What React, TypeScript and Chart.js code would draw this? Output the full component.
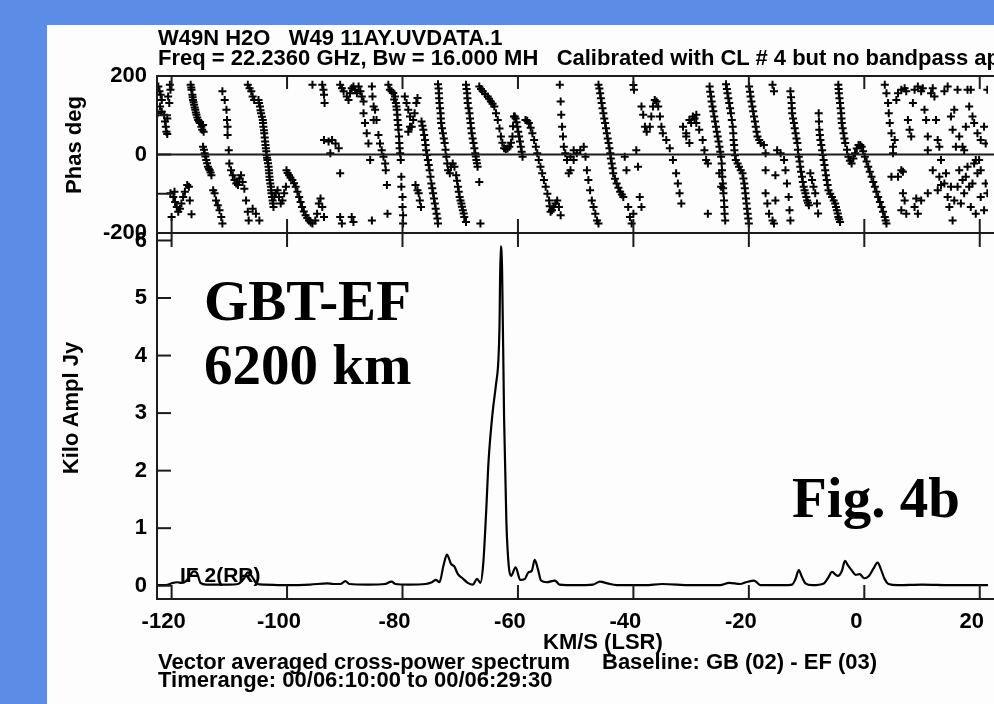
import React, { useEffect, useRef } from "react";
import { Chart, registerables } from "chart.js";
Chart.register(...registerables);

// ---- axes ----
const xTicks = [-120, -100, -80, -60, -40, -20, 0, 20];
const phaseTicks = [-200, -100, 0, 100, 200];
const ampTicks = [0, 1, 2, 3, 4, 5, 6];

// ---- amplitude spectrum (Kilo Jy) vs velocity (km/s) ----
const ampVel = [
  -122.5, -121, -119.8, -119, -118.2, -117.5, -116.8, -116.2, -115.6, -115.0, -114, -112, -110, -108.5,
  -107.5, -106.8, -106.0, -105.2, -104, -100, -96, -93, -92, -90.7, -89.9, -89.2, -86, -83, -81.9, -81.2,
  -79, -76, -74.9, -74.2, -73.6, -72.9, -72.3, -71.6, -71.0, -70.4, -69.6, -68.7, -67.8, -67.1, -66.5,
  -66.0, -65.5, -65.1, -64.4, -63.8, -63.4, -63.2, -63.0, -62.75, -62.4, -62.0, -61.6, -61.2, -60.4,
  -59.6, -58.8, -58.2, -57.6, -57.1, -56.5, -56.0, -55, -53.6, -52.8, -50, -47, -45.8, -44.5, -42.9,
  -38, -35, -30, -25, -23.4, -21.5, -20.5, -19.1, -18, -14, -12.5, -11.9, -11.35, -10.8, -10.2, -9,
  -7, -6.2, -5.6, -4.6, -3.9, -3.35, -2.8, -2.2, -1.5, -0.8, 0, 0.8, 1.6, 2.3, 2.9, 3.5, 4.2, 5.8,
  10, 15, 20, 21.5,
];
const ampVal = [
  0.01, 0.01, 0.05, 0.06, 0.05, 0.08, 0.18, 0.25, 0.22, 0.05, 0.02, 0.02, 0.02, 0.03,
  0.12, 0.23, 0.15, 0.03, 0.02, 0.01, 0.02, 0.04, 0.03, 0.03, 0.08, 0.03, 0.02, 0.03, 0.07, 0.03,
  0.02, 0.03, 0.06, 0.10, 0.06, 0.35, 0.54, 0.38, 0.33, 0.20, 0.13, 0.05, 0.02, 0.12, 0.05,
  0.4, 1.3, 2.15, 3.0, 3.5, 3.9, 4.5, 5.9, 5.5, 2.9, 1.1, 0.35, 0.17, 0.32,
  0.10, 0.12, 0.23, 0.26, 0.45, 0.27, 0.09, 0.06, 0.09, 0.02, 0.01, 0.02, 0.07, 0.04, 0.01,
  0.01, 0.03, 0.01, 0.01, 0.05, 0.03, 0.06, 0.09, 0.01, 0.01, 0.02, 0.12, 0.27, 0.15, 0.04, 0.01,
  0.04, 0.15, 0.24, 0.17, 0.25, 0.43, 0.35, 0.27, 0.19, 0.20, 0.13, 0.17, 0.30, 0.40, 0.28, 0.12, 0.03, 0.01,
  0.02, 0.01, 0.01, 0.01,
];

// ---- phase (deg) vs velocity (km/s) ----
const phaseVel = [
  -122.3, -122.1, -121.9, -121.7, -122.0, -121.7, -121.3, -121.15, -121.0, -120.9, -120.75, -120.3, -120.2, -120.6, -120.4, -120.75, -122.45,
  -120.2, -119.7, -119.4, -119.1, -118.85, -118.55, -118.3, -118.0, -117.7, -117.3, -117.0, -116.85, -116.55, -120.0, -119.5,
  -116.7, -116.55, -116.4, -116.3, -116.1, -115.9, -115.7, -115.4, -115.1, -114.85, -114.7, -114.55, -114.45,
  -114.55, -114.27, -114.0, -113.7, -113.4, -113.1, -112.8, -112.55, -112.3, -112.0, -111.7, -111.4, -111.2,
  -111.2, -110.8, -110.5, -110.4, -110.3, -110.3, -110.1, -110.0, -109.7, -109.4, -109.1, -108.8, -108.5, -108.25, -107.97, -107.7, -107.4, -107.1, -106.8, -106.65, -105.96, -105.4, -104.8,
  -106.8, -106.5, -106.2, -105.96, -105.7,
  -104.95, -104.7, -104.5, -104.2, -104.1, -103.95, -103.8, -103.67, -103.55, -103.4, -103.2, -103.1, -103.0, -102.8, -102.7, -102.5, -102.35, -102.2, -101.95, -101.65, -101.4, -101.1, -100.8, -100.5, -100.2,
  -100.1, -99.65, -99.08, -98.5, -97.9, -97.4, -96.8, -96.2, -95.6, -95.1, -94.8, -94.5, -94.2, -93.9, -93.6,
  -90.8, -90.5, -88.8, -88.5, -85.3,
  -93.6, -92.8, -92.2, -91.6, -91.05, -92.5, -90.8, -85.6,
  -95.6, -93.9, -93.7, -93.6, -93.5,
  -90.8, -90.5, -90.2, -89.65, -89.35, -89.1, -88.8, -88.5, -88.2, -87.9, -87.6, -87.3, -87.05, -86.75,
  -86.75, -86.5, -86.2, -85.9, -85.3, -85.2, -85.0, -85.0, -84.75, -84.5,
  -84.17, -83.9, -83.6, -83.3, -83.0, -82.9, -82.7, -82.6,
  -82.45, -82.2, -81.9, -81.6, -81.3, -81.15, -81.0, -80.85, -80.7, -80.55, -80.4, -80.3, -80.2, -80.2, -80.0, -80.0, -79.9, -79.9,
  -79.6, -79.3, -79.0, -78.7, -78.7, -79.0, -78.4, -78.15, -77.9, -77.6, -77.4,
  -77.75, -77.4, -77.2, -77.0, -76.8,
  -76.7, -76.4, -76.1, -75.9, -75.6, -75.3, -75.0, -74.7, -74.4, -74.1, -73.85,
  -73.85, -73.7, -73.6, -73.4, -73.3, -73.0, -72.7, -72.4, -72.1, -71.8, -71.6, -71.3, -71.0, -70.7, -70.4, -70.1, -69.8, -69.55, -69.3, -69.0,
  -69.0, -68.8, -68.7, -68.4, -68.2, -68.0, -67.7, -67.4, -67.2, -67.0, -66.7, -66.5,
  -66.7, -66.1, -65.25, -64.7, -64.1, -63.5, -62.95, -62.4, -61.5, -60.95, -60.7, -60.4, -60.1, -59.8, -59.5, -59.2,
  -58.7, -58.1, -57.5, -56.9, -56.4, -55.8, -55.2, -54.6, -54.35, -53.8, -53.2, -52.9, -52.6,
  -52.75, -52.6, -52.5, -52.35, -52.2, -52.05, -51.8, -51.5, -51.2,
  -50.9, -50.35, -49.8, -49.2, -48.6, -48.3, -48.05, -47.8, -47.5, -47.2, -46.9, -46.6, -46.3, -46.05, -50.9, -50.35,
  -46.05, -45.76, -45.5, -45.2, -44.9, -44.6, -44.3, -44.0, -43.75, -43.5, -42.9, -42.3, -41.75, -41.5, -41.2, -40.9, -40.6, -40.3, -40.0, -38.9, -38.6,
  -40.0, -39.9,
  -38.6, -38.3, -38.0, -37.7, -37.15, -36.9, -36.6, -36.3, -36.0, -35.7, -35.4, -35.15, -34.9, -34.3, -33.7, -33.15, -32.6, -32.3, -32.0, -31.7, -39.5, -39.2,
  -31.4, -30.85, -30.3, -30.0, -29.4, -29.1,
  -30.85, -30.3, -29.7, -29.1, -28.6, -28.0, -27.7, -27.4, -27.1, -27.1,
  -26.8, -26.55, -26.3, -26.0, -25.7, -25.4, -25.1, -24.8, -24.65, -24.5, -24.4, -24.25, -24.1, -25.1, -24.8,
  -23.95, -23.7, -23.4, -23.1, -22.8, -22.65, -22.5, -22.25, -21.7, -21.1, -20.8, -20.6, -20.4, -20.2, -20.0,
  -19.95, -19.7, -19.4, -19.1, -18.8, -18.5, -17.95, -17.4, -17.1, -17.1, -17.1, -16.8, -16.5, -15.9, -15.65, -15.4,
  -15.9, -15.65,
  -15.1, -14.5, -13.9, -13.65, -13.4, -13.1, -12.95, -12.8, -15.4,
  -12.8, -12.6, -12.5, -12.2, -11.9, -11.6, -11.35, -11.1, -10.8, -10.5, -10.2, -9.9, -9.6, -9.35, -9.05, -8.8, -8.5,
  -8.2, -8.0,
  -7.9, -7.8, -7.6, -7.3, -7.05, -6.77, -6.5, -6.2, -5.6, -5.05, -4.75, -4.5, -4.2,
  -4.5, -4.4, -4.2, -4.0, -3.9, -3.6, -3.3, -2.75, -2.2, -1.6, -1.0, -0.45, 0.1, 0.68, 1.25, 1.83, 2.4, 2.98, 3.55, 3.84,
  3.55, 3.84, 4.12, 4.24, 4.41, 4.7, 4.98, 4.98, 5.27, 5.55, 5.84, 6.41, 6.99, 7.27, 7.56, 7.85, 8.13, 8.42, 8.71, 9.28,
  9.85, 10.14, 10.43, 10.71, 11.0, 11.57, 11.86, 12.15, 12.43, 12.72, 13.0, 13.29, 13.87, 14.44, 15.01, 15.3, 15.59, 15.87,
  16.16, 16.45, 17.02, 17.3, 17.59, 17.88, 18.17, 18.45, 18.74, 19.03, 19.6, 19.89, 20.17, 20.75, 21.03, 21.32,
  6.41, 6.7, 6.99, 6.41, 7.27, 8.71, 9.28, 9.0, 9.85, 11.0, 11.86, 12.72, 13.0, 13.29, 13.87, 14.15, 14.44, 14.73, 15.01,
  15.3, 15.59, 16.16, 16.45, 16.73, 17.02, 17.3, 17.59, 17.88, 18.17, 18.45, 18.74, 19.03, 19.31, 19.6, 20.17, 20.75, 21.03,
  21.32, 19.31, 20.17, 11.0, 4.7, 5.84, 6.7,
];
const phaseDeg = [
  173, 161, 152, 139, 122, 109, 101, 84, 71, 58, 52, 178, 165, 148, 131, 92, 105,
  -99, -108, -121, -134, -146, -138, -125, -108, -95, -78, -82, -117, -152, -159, -95,
  178, 165, 152, 139, 127, 114, 101, 88, 80, 71, 63, 75, 58,
  20, 3, -14, -31, -40, -53, -91, -99, -117, -129, -142, -159, -176,
  161, 139, 114, 88, 71, 50, 11, -23, -40, -53, -65, -74, -78, -61, -53, -70, -87, -117, -146, -168, -138, -151, -168,
  178, 169, 161, 148, 139,
  139, 122, 105, 88, 71, 54, 33, 16, -1, -14, -31, -48, -65, -82, -99, -117, -134, -108, -99, -91, -108, -125, -117, -99, -82,
  -40, -53, -65, -82, -108, -134, -155, -168, -176, -168, -151, -125, -112, -134, -159,
  -159, -176, -159, -172, -168,
  37, 33, 37, 28, 16, 3, -48, -14,
  178, 178, 165, 152, 131,
  178, 169, 161, 148, 139, 156, 169, 173, 165, 156, 173, 161, 148, 135,
  105, 80, 54, 28, 173, 148, 122, 88, 114, 88,
  50, 28, 11, -6, -23, -40, -78, -151,
  178, 165, 161, 157, 148, 131, 114, 88, 63, 29, 3, -14, -57, -82, -108, -134, -155, -176,
  148, 131, 114, 97, 71, 58, 71, 88, 105, 131, 144,
  -78, -91, -99, -117, -134,
  84, 63, 37, 11, -14, -40, -74, -99, -125, -151, -176,
  179, 156, 131, 105, 80, 54, 29, -6, -40, -48, -31, -23, -31, -53, -82, -108, -125, -142, -159, -172,
  178, 156, 131, 105, 80, 54, 29, 3, -14, -31, -70, -176,
  173, 161, 148, 135, 122, 88, 46, 16, 20, 46, 97, 92, 71, 46, 20, -6,
  88, 80, 54, 20, -14, -48, -82, -117, -146, -134, -117, -134, -155,
  178, 135, 101, 71, 46, 20, 3, -14, -48,
  -6, 11, 3, 11, 20, -6, -40, -65, -91, -117, -134, -151, -168, -176, -40, -14,
  178, 156, 131, 105, 80, 54, 29, 3, -23, -48, -74, -95, -108, -6, -40, -134, -159, -176, -151, -108, -134,
  177, 165,
  122, 101, 71, 58, 71, 97, 122, 139, 135, 122, 97, 71, 54, 37, 16, -14, -48, -74, -99, -125, 11, -31,
  71, 54, 29, 80, 92, 101,
  46, 88, 97, 80, 63, 37, 11, -14, -23, -151,
  173, 148, 122, 97, 71, 46, 20, -6, -40, -74, -99, -134, -168, -48, -82,
  179, 156, 131, 105, 71, 37, 11, -14, -31, -48, -74, -99, -125, -151, -176,
  173, 148, 122, 97, 71, 46, 29, 24, 3, -40, -99, -125, -151, -168, -176, -117,
  178, 161,
  11, 3, -14, -40, -74, -108, -142, -168, -53,
  161, 131, 105, 80, 54, 29, -6, -31, -57, -82, -99, -117, -129, -48, -65, -82, -99,
  -125, -150,
  105, 63, 37, 11, -14, -40, -65, -91, -108, -125, -142, -159, -172,
  178, 156, 131, 105, 80, 54, 29, -6, -23, 3, 24, 20, -6, -31, -57, -82, -108, -134, -159, -176,
  178, 156, 131, 105, 80, 54, 20, 3, 37, 139, 156, 165, 169, 161, 88, 63, 46, 131, 165, 173,
  161, 169, 114, 88, 46, 156, 169, 148, 88, 37, 20, -14, 161, 173, 97, 63, 114, 20,
  165, 46, 20, 11, 71, 165, 122, 165, 97, 80, 54, -14, 37, 71, 28, 165,
  -40, -99, -117, -142, -151, -134, -151, -112, -117, -99, -40, -91, -57, -78, -74, -48, -108, -134, -82,
  -168, -117, -82, -40, -125, -65, -99, -57, -31, -82, -134, -74, -23, -151, -48, -108, -142, -74,
  -99, -14, -40, 11, -57, -57, -44,
];

// further crosses read along the densely sampled streaks: [km/s, deg]
const phaseDense: [number, number][] = [
  [-116.6, 171], [-116.35, 146], [-116.2, 133], [-116.0, 120], [-115.8, 107], [-115.55, 94], [-115.25, 84],
  [-114.4, 12], [-114.15, -5], [-113.85, -22], [-113.55, -36], [-113.25, -46],
  [-104.85, 131], [-104.6, 113], [-104.35, 96], [-104.15, 80], [-104.0, 62], [-103.87, 43], [-103.73, 24],
  [-103.6, 8], [-103.47, -8], [-103.3, -22], [-103.15, -40], [-103.05, -57], [-102.9, -74], [-102.75, -91],
  [-102.6, -108], [-102.43, -125],
  [-99.9, -47], [-99.4, -59], [-98.8, -73], [-98.2, -95], [-97.65, -121], [-97.1, -145], [-96.5, -162], [-95.9, -173],
  [-81.45, 140], [-81.05, 122], [-80.9, 101], [-80.75, 75], [-80.6, 46], [-80.5, 16],
  [-76.55, 73], [-76.25, 50], [-76.0, 24], [-75.75, -1], [-75.45, -27], [-75.15, -57], [-74.85, -86],
  [-74.55, -112], [-74.25, -138], [-73.95, -163],
  [-73.75, 168], [-73.65, 143], [-73.5, 118], [-73.35, 92], [-73.15, 67], [-72.85, 41], [-72.55, 12],
  [-72.25, -23], [-70.55, -67], [-70.25, -95], [-69.95, -117], [-69.7, -133], [-69.4, -150],
  [-68.9, 167], [-68.75, 143], [-68.55, 118], [-68.3, 92], [-68.1, 67], [-67.85, 41], [-67.55, 16],
  [-67.3, -5], [-67.1, -22],
  [-66.4, 167], [-65.7, 154], [-65.0, 142], [-64.4, 129], [-63.8, 105], [-63.2, 66], [-62.7, 30], [-62.1, 14],
  [-61.8, 15], [-61.2, 30], [-60.85, 72], [-60.55, 97], [-60.25, 82], [-59.95, 58], [-59.65, 33], [-59.35, 7],
  [-58.4, 86], [-57.8, 68], [-57.2, 37], [-56.65, 3], [-56.1, -31], [-55.5, -65], [-54.9, -100], [-54.5, -132],
  [-54.1, -142], [-53.5, -125],
  [-45.9, 168], [-45.63, 143], [-45.35, 118], [-45.05, 92], [-44.75, 67], [-44.45, 41], [-44.15, 16],
  [-43.9, -10], [-43.6, -35], [-43.2, -62], [-42.6, -85], [-42.0, -102],
  [-26.7, 160], [-26.45, 135], [-26.15, 110], [-25.85, 84], [-25.55, 58], [-25.25, 33], [-24.95, 7],
  [-24.7, -23], [-24.6, -57], [-24.45, -86], [-24.3, -117], [-24.2, -151],
  [-23.8, 167], [-23.55, 143], [-23.25, 118], [-22.95, 88], [-22.7, 54], [-22.55, 24], [-22.4, -2],
  [-21.95, -23], [-21.4, -40], [-20.95, -61], [-20.7, -86], [-20.5, -112], [-20.3, -138], [-20.1, -163],
  [-19.8, 160], [-19.55, 135], [-19.25, 110], [-18.95, 84], [-18.65, 58], [-18.2, 37],
  [-12.7, 146], [-12.55, 118], [-12.35, 92], [-12.05, 67], [-11.75, 41], [-11.5, 12], [-11.2, -18],
  [-10.95, -44], [-10.65, -70], [-10.35, -91], [-10.05, -108], [-9.75, -123],
  [-7.85, 84], [-7.7, 50], [-7.45, 24], [-7.2, -1], [-6.9, -27], [-6.65, -53], [-6.35, -78], [-5.9, -100],
  [-5.3, -117], [-4.9, -134], [-4.6, -150], [-4.35, -165],
  [-4.45, 167], [-4.3, 143], [-4.1, 118], [-3.95, 92], [-3.75, 67], [-3.45, 41], [-3.0, 12], [-2.5, -16],
  [-1.9, -10], [-1.3, 15], [-0.7, 24], [-0.2, 8], [0.4, -18], [0.95, -44], [1.55, -70], [2.1, -95],
  [2.7, -121], [3.25, -146], [3.7, -168],
];

const sans = '"Liberation Sans", Arial, Helvetica, sans-serif';
const serif = '"Liberation Serif", "Times New Roman", serif';

const framePlugin = {
  id: "frame",
  afterDatasetsDraw(chart: any) {
    const { ctx, scales, chartArea } = chart;
    const x = scales.x, yP = scales.yP, yA = scales.yA;
    const L = chartArea.left, R = chart.width + 2;
    const T = 14;
    ctx.save();
    ctx.strokeStyle = "#1c1c1c";
    ctx.lineWidth = 2;
    const line = (x1: number, y1: number, x2: number, y2: number) => {
      ctx.beginPath();
      ctx.moveTo(x1, y1);
      ctx.lineTo(x2, y2);
      ctx.stroke();
    };
    line(L, yP.top, R, yP.top);
    line(L, yP.bottom, R, yP.bottom);
    line(L, yA.bottom, R, yA.bottom);
    line(L, yP.top - 1, L, yA.bottom + 1);
    line(L, yP.getPixelForValue(0), R, yP.getPixelForValue(0));
    phaseTicks.forEach((v) => {
      const p = yP.getPixelForValue(v);
      line(L, p, L + T, p);
    });
    ampTicks.forEach((v) => {
      const p = yA.getPixelForValue(v);
      line(L, p, L + T, p);
    });
    xTicks.forEach((v) => {
      const p = x.getPixelForValue(v);
      line(p, yP.top, p, yP.top + T - 1);
      line(p, yP.bottom - T, p, yP.bottom + T);
      line(p, yA.bottom - T, p, yA.bottom);
    });
    ctx.restore();
  },
};

export default function App() {
  const ref = useRef<HTMLCanvasElement | null>(null);
  useEffect(() => {
    if (!ref.current) return;
    const tickFont = { family: sans, size: 22, weight: "bold" as const };
    const phasePoints = phaseVel
      .map((v, i) => ({ x: v, y: phaseDeg[i] }))
      .concat(phaseDense.map(([v, p]) => ({ x: v, y: p })));
    const chart = new Chart(ref.current, {
      type: "line",
      data: {
        datasets: [
          {
            label: "Amplitude",
            data: ampVel.map((v, i) => ({ x: v, y: ampVal[i] })),
            yAxisID: "yA",
            borderColor: "#000",
            borderWidth: 2.2,
            pointRadius: 0,
            showLine: true,
            cubicInterpolationMode: "monotone",
          },
          {
            label: "Phase",
            data: phasePoints,
            yAxisID: "yP",
            showLine: false,
            pointStyle: "cross",
            pointRadius: 4,
            pointBorderWidth: 2,
            borderColor: "#000",
            backgroundColor: "#000",
          },
        ],
      },
      options: {
        responsive: false,
        animation: false,
        events: [],
        layout: { padding: { top: 76, left: 0, right: 0, bottom: 0 } },
        plugins: { legend: { display: false }, title: { display: false }, tooltip: { enabled: false } },
        scales: {
          x: {
            type: "linear",
            position: "bottom",
            min: -122.53,
            max: 21.43,
            grid: { display: false, drawTicks: false },
            border: { display: false },
            afterBuildTicks: (s: any) => {
              s.ticks = xTicks.map((v) => ({ value: v }));
            },
            afterFit: (s: any) => {
              s.height = 105;
              s.paddingLeft = 0;
              s.paddingRight = 0;
            },
            ticks: { font: tickFont, color: "#000", padding: 10, labelOffset: -8, maxRotation: 0, autoSkip: false },
          },
          yA: {
            type: "linear",
            position: "left",
            stack: "v",
            stackWeight: 366,
            min: -0.231,
            max: 6.13,
            grid: { display: false, drawTicks: false },
            border: { display: false },
            afterBuildTicks: (s: any) => {
              s.ticks = ampTicks.map((v) => ({ value: v }));
            },
            afterFit: (s: any) => {
              s.width = 157;
              s.paddingTop = 0;
              s.paddingBottom = 0;
            },
            ticks: { font: tickFont, color: "#000", padding: 10 },
          },
          yP: {
            type: "linear",
            position: "left",
            stack: "v",
            stackWeight: 157,
            min: -200,
            max: 200,
            grid: { display: false, drawTicks: false },
            border: { display: false },
            afterBuildTicks: (s: any) => {
              s.ticks = phaseTicks.map((v) => ({ value: v }));
            },
            afterFit: (s: any) => {
              s.width = 157;
              s.paddingTop = 0;
              s.paddingBottom = 0;
            },
            ticks: { font: tickFont, color: "#000", padding: 10 },
          },
        },
      },
      plugins: [framePlugin],
    });
    return () => chart.destroy();
  }, []);

  const txt = (left: number, top: number, text: string, extra: any = {}) => (
    <div
      style={{
        position: "absolute",
        left,
        top,
        whiteSpace: "pre",
        fontFamily: sans,
        fontWeight: "bold",
        fontSize: 22,
        lineHeight: "22px",
        color: "#000",
        ...extra,
      }}
    >
      {text}
    </div>
  );
  const big = (left: number, top: number, text: string) => (
    <div
      style={{
        position: "absolute",
        left,
        top,
        whiteSpace: "pre",
        fontFamily: serif,
        fontWeight: "bold",
        fontSize: 57,
        lineHeight: "57px",
        color: "#000",
      }}
    >
      {text}
    </div>
  );

  return (
    <div style={{ position: "fixed", left: 0, top: 0, width: 994, height: 704, overflow: "hidden", background: "#5b8ce6" }}>
      <div style={{ position: "absolute", left: 47, top: 25, right: 0, bottom: 0, background: "#fdfdfd" }} />
      <canvas ref={ref} width={994} height={704} style={{ position: "absolute", left: 0, top: 0, width: 994, height: 704 }} />
      {txt(158, 27.4, "W49N H2O   W49 11AY.UVDATA.1")}
      {txt(158, 47.4, "Freq = 22.2360 GHz, Bw = 16.000 MH   Calibrated with CL # 4 but no bandpass applied")}
      <div
        style={{
          position: "absolute",
          left: 74,
          top: 145,
          transform: "translate(-50%, -50%) rotate(-90deg)",
          whiteSpace: "pre",
          fontFamily: sans,
          fontWeight: "bold",
          fontSize: 22,
          lineHeight: "22px",
        }}
      >
        Phas deg
      </div>
      <div
        style={{
          position: "absolute",
          left: 71,
          top: 408,
          transform: "translate(-50%, -50%) rotate(-90deg)",
          whiteSpace: "pre",
          fontFamily: sans,
          fontWeight: "bold",
          fontSize: 22,
          lineHeight: "22px",
        }}
      >
        Kilo Ampl Jy
      </div>
      {txt(543, 631.4, "KM/S (LSR)")}
      {txt(158, 651.4, "Vector averaged cross-power spectrum")}
      {txt(602, 651.4, "Baseline: GB (02) - EF (03)")}
      {txt(158, 669.4, "Timerange: 00/06:10:00 to 00/06:29:30")}
      {txt(180, 564, "IF 2(RR)", { fontSize: 21, lineHeight: "21px" })}
      {big(204, 271.6, "GBT-EF")}
      {big(204, 336.2, "6200 km")}
      {big(792, 469, "Fig. 4b")}
    </div>
  );
}
